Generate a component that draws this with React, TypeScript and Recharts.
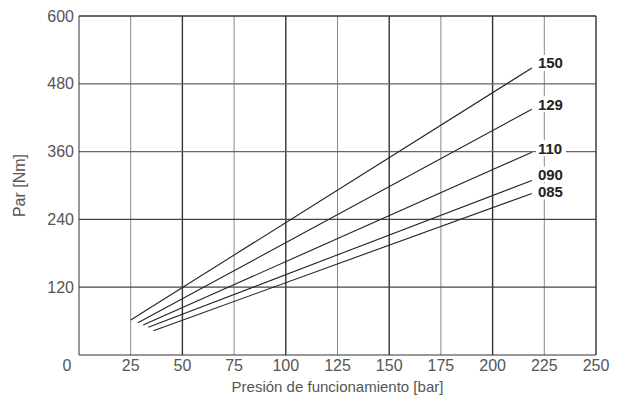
import { LineChart, Line, XAxis, YAxis, ReferenceLine, LabelList } from "recharts";

// pressure [bar] / torque [Nm], one straight line per size
const serie150 = [
  { p: 25, par: 62 },
  { p: 219, par: 508 },
];
const serie129 = [
  { p: 28.5, par: 57 },
  { p: 219, par: 435 },
];
const serie110 = [
  { p: 31, par: 53 },
  { p: 219, par: 359 },
];
const serie090 = [
  { p: 33.5, par: 49 },
  { p: 219, par: 309 },
];
const serie085 = [
  { p: 36, par: 43 },
  { p: 219, par: 286 },
];

const xTicks = [0, 25, 50, 75, 100, 125, 150, 175, 200, 225, 250];
const yTicks = [120, 240, 360, 480, 600];

const series = [
  { name: "150", data: serie150, dy: -5 },
  { name: "129", data: serie129, dy: -5 },
  { name: "110", data: serie110, dy: -4 },
  { name: "090", data: serie090, dy: -6 },
  { name: "085", data: serie085, dy: -2 },
];

const font = "'Liberation Sans', Arial, sans-serif";

const XTick = ({ x, y, payload }) => (
  <text
    x={payload.value === 0 ? x - 12 : x}
    y={y}
    dy="0.71em"
    textAnchor="middle"
    fill="#555"
    fontSize={16}
    fontFamily={font}
  >
    {payload.value}
  </text>
);

const makeLabel = (name, dy, last) => (props) => {
  const { x, y, index } = props;
  if (index !== last) return null;
  const lx = x + 6;
  const ly = y + dy;
  return (
    <g>
      <rect x={lx - 2} y={ly - 8} width={30} height={16} fill="#fff" />
      <text
        x={lx}
        y={ly}
        dy="0.36em"
        fill="#222"
        fontSize={15}
        fontWeight="bold"
        fontFamily={font}
      >
        {name}
      </text>
    </g>
  );
};

export default function App() {
  return (
    <div style={{ position: "absolute", left: 0, top: 0, background: "#fff" }}>
      <LineChart
        width={623}
        height={405}
        margin={{ top: 16, right: 27, left: 0, bottom: 0 }}
      >
        <XAxis
          type="number"
          dataKey="p"
          domain={[0, 250]}
          ticks={xTicks}
          tickLine={false}
          tickSize={0}
          tickMargin={5}
          height={50}
          stroke="#333"
          tick={<XTick />}
          label={{
            value: "Presión de funcionamiento [bar]",
            position: "insideBottom",
            offset: 13,
            fill: "#555",
            fontSize: 15,
            fontFamily: font,
          }}
        />
        <YAxis
          type="number"
          domain={[0, 600]}
          ticks={yTicks}
          tickLine={false}
          tickSize={0}
          tickMargin={5}
          width={79}
          stroke="#333"
          tick={{ fill: "#555", fontSize: 16, fontFamily: font }}
          label={{
            value: "Par [Nm]",
            angle: -90,
            position: "insideLeft",
            offset: 19,
            style: { textAnchor: "middle" },
            fill: "#555",
            fontSize: 16,
            fontFamily: font,
          }}
        />
        {xTicks
          .filter((t) => t > 0 && t < 250)
          .map((t) => (
            <ReferenceLine
              key={"x" + t}
              x={t}
              stroke={t % 50 === 0 ? "#333" : "#888"}
              strokeWidth={t % 50 === 0 ? 1.4 : 1}
            />
          ))}
        {yTicks
          .filter((t) => t < 600)
          .map((t) => (
            <ReferenceLine
              key={"y" + t}
              y={t}
              stroke={t <= 240 ? "#444" : "#666"}
              strokeWidth={1.2}
            />
          ))}
        <ReferenceLine y={600} stroke="#333" strokeWidth={1.4} />
        <ReferenceLine x={250} stroke="#333" strokeWidth={1.4} />
        {series.map((s) => (
          <Line
            key={s.name}
            data={s.data}
            dataKey="par"
            stroke="#222"
            strokeWidth={1.1}
            dot={false}
            activeDot={false}
            isAnimationActive={false}
          >
            <LabelList
              dataKey="par"
              content={makeLabel(s.name, s.dy, s.data.length - 1)}
            />
          </Line>
        ))}
      </LineChart>
    </div>
  );
}
